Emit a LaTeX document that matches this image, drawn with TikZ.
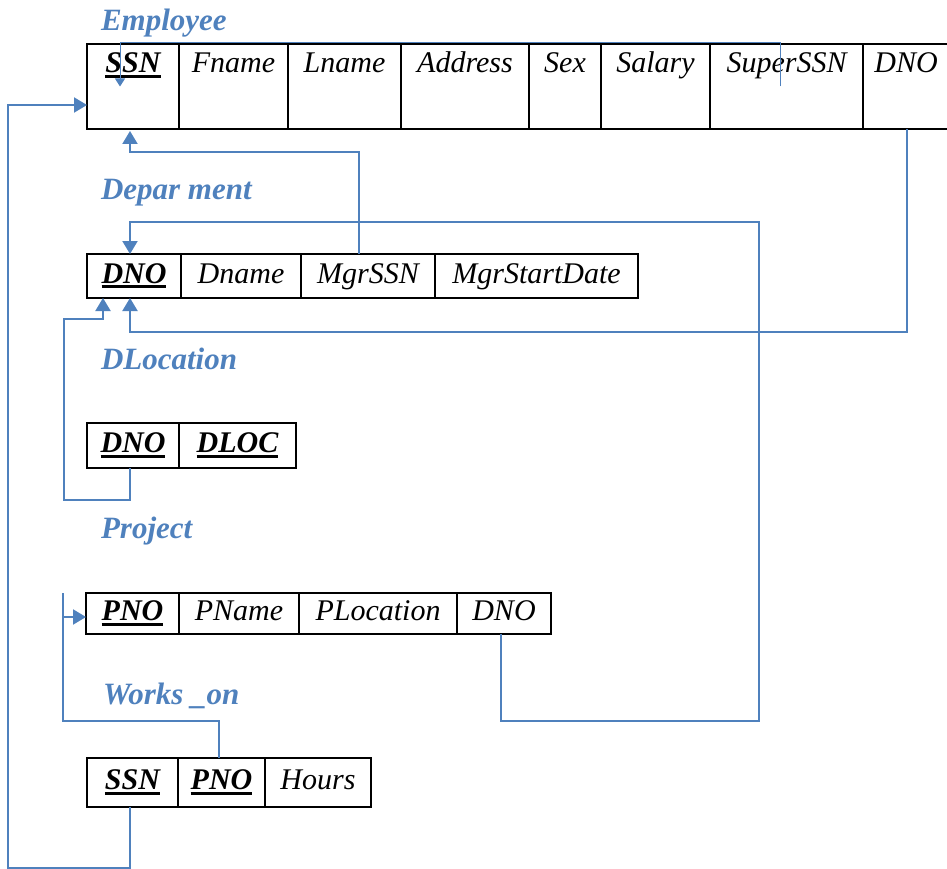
\documentclass[tikz,border=0pt]{standalone}
\usepackage{fontspec}
\setmainfont{Liberation Serif}
\usetikzlibrary{positioning,arrows.meta}
\definecolor{linkblue}{RGB}{79,129,189}
\newcommand{\keyattr}[1]{\setbox0\hbox{\bfseries #1}\rlap{\rule[-5pt]{\wd0}{3pt}}\box0}
\tikzstyle{every node}+=[inner sep=0pt,outer sep=0pt,font=\fontsize{30}{36}\selectfont\itshape]
\tikzstyle{cell}=[draw,line width=1.6pt,text height=20pt,text depth=6pt]
\tikzstyle{tallcell}=[cell,text height=29pt,text depth=56pt]
\tikzstyle{relname}=[anchor=base west,text=linkblue,font=\fontsize{31}{36}\selectfont\bfseries\itshape]
\tikzstyle{fkedge}=[linkblue,line width=2pt,-{Triangle[length=13pt,width=15pt]}]
\tikzstyle{fkthin}=[linkblue,line width=1pt,-{Triangle[length=8pt,width=10pt]}]

\begin{document}
\begin{tikzpicture}[x=1pt,y=-1pt]
\useasboundingbox (0,0) rectangle (947,869);

\node[relname] (templ) at (101,31) {Employee};
\node[tallcell,minimum width=92pt,anchor=north west] (essn) at (87,44) {\keyattr{SSN}};
\node[tallcell,minimum width=109pt,right=0pt of essn] (efname) {Fname};
\node[tallcell,minimum width=113pt,right=0pt of efname] (elname) {Lname};
\node[tallcell,minimum width=128pt,right=0pt of elname] (eaddr) {Address};
\node[tallcell,minimum width=72pt,right=0pt of eaddr] (esex) {Sex};
\node[tallcell,minimum width=109pt,right=0pt of esex] (esalary) {Salary};
\node[tallcell,minimum width=153pt,right=0pt of esalary] (esuper) {SuperSSN};
\node[tallcell,minimum width=86pt,right=0pt of esuper] (ednum) {DNO};

\node[relname] (tdept) at (101,200) {Depar ment};
\node[cell,minimum width=94pt,minimum height=44pt,anchor=north west] (ddno) at (87,254) {\keyattr{DNO}};
\node[cell,minimum width=120pt,minimum height=44pt,right=0pt of ddno] (dname) {Dname};
\node[cell,minimum width=134pt,minimum height=44pt,right=0pt of dname] (dmgr) {MgrSSN};
\node[cell,minimum width=203pt,minimum height=44pt,right=0pt of dmgr] (dstart) {MgrStartDate};

\node[relname] (tdloc) at (101,369) {DLocation};
\node[cell,minimum width=92pt,minimum height=45pt,anchor=north west] (ldno) at (87,423) {\keyattr{DNO}};
\node[cell,minimum width=117pt,minimum height=45pt,right=0pt of ldno] (lloc) {\keyattr{DLOC}};

\node[relname] (tproj) at (101,538) {Project};
\node[cell,minimum width=93pt,minimum height=41pt,anchor=north west] (ppno) at (86,593) {\keyattr{PNO}};
\node[cell,minimum width=120pt,minimum height=41pt,right=0pt of ppno] (pname) {PName};
\node[cell,minimum width=158pt,minimum height=41pt,right=0pt of pname] (ploc) {PLocation};
\node[cell,minimum width=94pt,minimum height=41pt,right=0pt of ploc] (pdno) {DNO};

\node[relname] (twork) at (103,704) {Works \_on};
\node[cell,minimum width=91pt,minimum height=49pt,anchor=north west] (wssn) at (87,758) {\keyattr{SSN}};
\node[cell,minimum width=87pt,minimum height=49pt,right=0pt of wssn] (wpno) {\keyattr{PNO}};
\node[cell,minimum width=106pt,minimum height=49pt,right=0pt of wpno] (whours) {Hours};

\draw[fkthin] ([xshift=-6.5pt]esuper.center) -- ([xshift=-6.5pt,yshift=1pt]esuper.north) -| ([xshift=-13pt]essn.center);
\draw[fkedge] ([xshift=-9pt]dmgr.north) -- ++(0,-102) -| ([xshift=-3pt,yshift=-2pt]essn.south);
\draw[fkedge] ([xshift=1pt]ednum.south) -- ++(0,203) -| ([xshift=-4pt]ddno.south);
\draw[fkedge] ([xshift=-3pt]pdno.south) -- ++(0,87) -- ++(258,0) -- ++(0,-499) -| ([xshift=-4pt]ddno.north);
\draw[fkedge] ([xshift=-3pt]ldno.south) -- ++(0,32) -- ++(-66,0) -- ++(0,-181) -| ([xshift=-31pt]ddno.south);
\draw[linkblue,line width=2pt] ([xshift=-2.5pt]wpno.north) -- ++(0,-37) -- ++(-156,0) -- ++(0,-128);
\coordinate (pjoin) at (63,617);
\draw[fkedge] (pjoin) -- ([yshift=-3.5pt]ppno.west);
\draw[fkedge] ([xshift=-2.5pt]wssn.south) -- ++(0,61) -- ++(-122,0) |- ([yshift=-18.5pt]essn.west);
\end{tikzpicture}
\end{document}
